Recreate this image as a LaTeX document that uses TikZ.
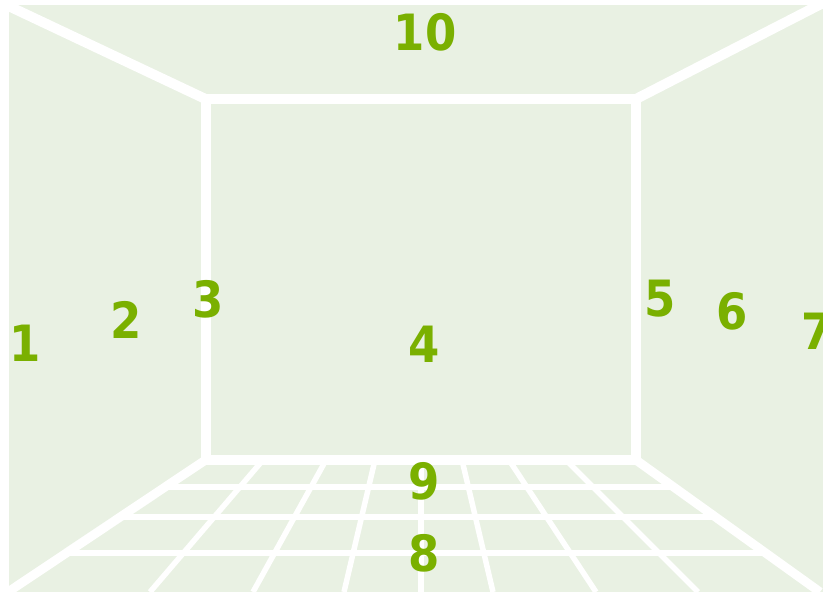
\documentclass[tikz,border=0pt]{standalone}
\usepackage{fontspec}
\newfontfamily\numfont{DejaVu Sans Condensed}
\usetikzlibrary{calc}
\definecolor{roombg}{RGB}{233,241,227}
\definecolor{numgreen}{RGB}{122,176,0}

\begin{document}
\begin{tikzpicture}[
    x=1pt, y=-1pt,
    wall/.style={draw=white, line width=10pt},
    floorline/.style={draw=white, line width=9pt},
    grid/.style={draw=white, line width=5.5pt},
    num/.style={text=numgreen, inner sep=0pt, font=\numfont\bfseries\fontsize{50}{50}\selectfont}
]
\useasboundingbox (0,0) rectangle (823,592);
\fill[white] (0,0) rectangle (823,592);
\fill[roombg] (8.5,5) rectangle (823,592);

% Back wall corners
\coordinate (tl) at (205.5,99);
\coordinate (tr) at (636,99);
\coordinate (bl) at (205.5,460);
\coordinate (br) at (636,460);

% Outer corners
\coordinate (otl) at (0,2);
\coordinate (otr) at (823,3);
\coordinate (obl) at (8,592);
\coordinate (obr) at (820,592);

% Floor grid
\foreach \t in {0.205, 0.432, 0.705}
    \draw[grid] ($(bl)!\t!(obl)$) -- ($(br)!\t!(obr)$);
\foreach \a/\b in {263/150, 326/253, 375/344, 421/421, 462/493, 509/596, 566/698}
    \draw[grid] (\a,460) -- (\b,592);

% Walls
\draw[wall] (tl) -- (tr) -- (br) -- (bl) -- cycle;
\draw[wall] (otl) -- (tl);
\draw[wall] (otr) -- (tr);
\draw[floorline] (obl) -- (bl);
\draw[floorline] (obr) -- (br);

% Numbers
\node[num] (n1) at (25,343) {1};
\node[num] (n2) at (126,320) {2};
\node[num] (n3) at (208,299) {3};
\node[num] (n4) at (424,344) {4};
\node[num] (n5) at (660,299) {5};
\node[num] (n6) at (732,311) {6};
\node[num] (n7) at (817.5,331) {7};
\node[num] (n8) at (424,553) {8};
\node[num] (n9) at (424,481) {9};
\node[num] (n10) at (425,32) {10};

\end{tikzpicture}
\end{document}
